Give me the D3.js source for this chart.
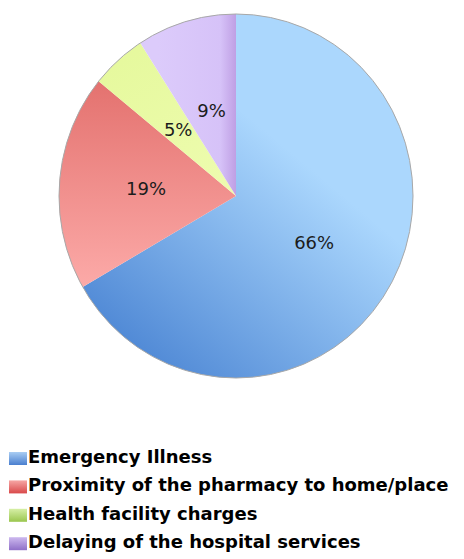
<!DOCTYPE html>
<html>
<head>
<meta charset="utf-8">
<script src="https://cdn.jsdelivr.net/npm/d3@7"></script>
<style>
  body { margin: 0; background: #fff; }
  svg { display: block; }
</style>
</head>
<body>
<div id="chart"></div>
<script>
var width = 464;
var height = 559;

// data
var categories = ['Emergency Illness', 'Proximity of the pharmacy to home/place',
  'Health facility charges', 'Delaying of the hospital services'];
var values = [66, 19, 5, 9];
var labels = ['66%', '19%', '5%', '9%'];

// slice gradients [start, end] and legend swatch gradients
var sliceStops = [
  ['#abd7fd', '#4a84d3'],
  ['#e3706d', '#fcaaa8'],
  ['#e6f99e', '#eefcb0'],
  ['#dccbfb', '#bf9fe4']
];
var swatchStops = [
  ['#a9cdf3', '#4a7fcf'],
  ['#f6a6a4', '#d9494a'],
  ['#d6efa6', '#9ac64e'],
  ['#cdb9ef', '#8f6fc8']
];

var cx = 236, cy = 196, rx = 177, ry = 182;
var R = 180; // arcs are drawn at this radius, then squeezed to rx/ry

var svg = d3.select('#chart')
  .append('svg')
  .attr('width', width)
  .attr('height', height);

var defs = svg.append('defs');

// gradient directions in the arc frame
var gradDirs = [
  [60, -40, -110, 170],   // blue: light top-right -> dark bottom-left
  [0, -120, 0, 90],       // red: dark top -> light bottom
  [-90, -150, 0, 0],      // yellow
  [-80, 0, 0, 0]          // purple: light left -> darker at right edge
];

sliceStops.forEach(function(s, i) {
  var g = defs.append('linearGradient')
    .attr('id', 'slice' + i)
    .attr('gradientUnits', 'userSpaceOnUse')
    .attr('x1', gradDirs[i][0]).attr('y1', gradDirs[i][1])
    .attr('x2', gradDirs[i][2]).attr('y2', gradDirs[i][3]);
  g.append('stop').attr('offset', '0%').attr('stop-color', s[0]);
  if (i === 3) {
    g.append('stop').attr('offset', '80%').attr('stop-color', '#d6c2f8');
  }
  g.append('stop').attr('offset', '100%').attr('stop-color', s[1]);
});

swatchStops.forEach(function(s, i) {
  var g = defs.append('linearGradient')
    .attr('id', 'swatch' + i)
    .attr('x1', 0).attr('y1', 0)
    .attr('x2', 0).attr('y2', 1);
  g.append('stop').attr('offset', '0%').attr('stop-color', s[0]);
  g.append('stop').attr('offset', '100%').attr('stop-color', s[1]);
});

var pie = d3.pie().sort(null)(values);
var arc = d3.arc().innerRadius(0).outerRadius(R);

var pieG = svg.append('g')
  .attr('transform', 'translate(' + cx + ',' + cy + ')');

pieG.append('g')
  .attr('transform', 'scale(' + (rx / R) + ',' + (ry / R) + ')')
  .selectAll('path')
  .data(pie)
  .enter()
  .append('path')
  .attr('d', arc)
  .attr('fill', function(d, i) { return 'url(#slice' + i + ')'; });

pieG.append('ellipse')
  .attr('rx', rx).attr('ry', ry)
  .attr('fill', 'none')
  .attr('stroke', '#a8a8a8')
  .attr('stroke-width', 1);

// value labels
var labelR = [0.51, 0.51, 0.49, 0.49];
pieG.selectAll('text.lbl')
  .data(pie)
  .enter()
  .append('text')
  .attr('class', 'lbl')
  .attr('x', function(d, i) {
    var a = (d.startAngle + d.endAngle) / 2;
    return Math.sin(a) * rx * labelR[i];
  })
  .attr('y', function(d, i) {
    var a = (d.startAngle + d.endAngle) / 2;
    return -Math.cos(a) * ry * labelR[i];
  })
  .attr('dy', '0.36em')
  .attr('text-anchor', 'middle')
  .attr('font-family', 'DejaVu Sans, sans-serif')
  .attr('font-size', 18)
  .attr('fill', '#1c1c1c')
  .text(function(d, i) { return labels[i]; });

// legend
var legend = svg.append('g')
  .attr('transform', 'translate(9,452)');

var rows = legend.selectAll('g')
  .data(categories)
  .enter()
  .append('g')
  .attr('transform', function(d, i) { return 'translate(0,' + (i * 28.4) + ')'; });

rows.append('rect')
  .attr('width', 18)
  .attr('height', 13)
  .attr('fill', function(d, i) { return 'url(#swatch' + i + ')'; });

rows.append('text')
  .attr('x', 19)
  .attr('y', 11)
  .attr('font-family', 'DejaVu Sans, sans-serif')
  .attr('font-weight', 'bold')
  .attr('font-size', 18)
  .attr('fill', '#000')
  .text(function(d) { return d; });
</script>
</body>
</html>
